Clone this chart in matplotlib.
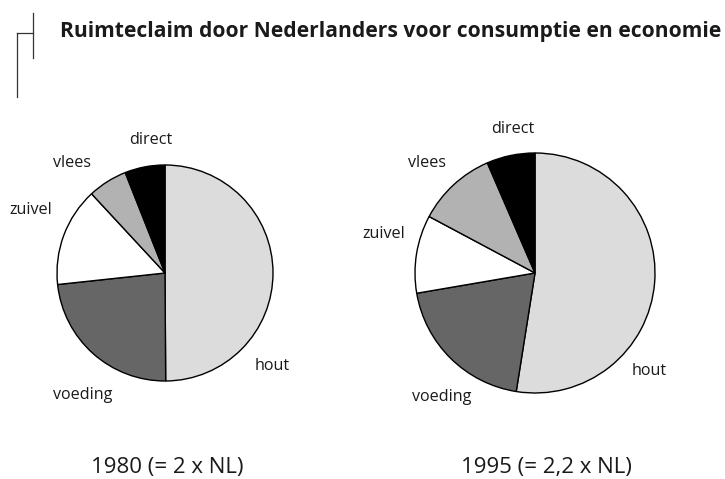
import matplotlib
matplotlib.use("Agg")
import matplotlib.pyplot as plt
from matplotlib.lines import Line2D

title = "Ruimteclaim door Nederlanders voor consumptie en economie"
categories = ["hout", "voeding", "zuivel", "vlees", "direct"]
values_1980 = [49.9, 23.4, 14.8, 5.9, 6.0]
values_1995 = [52.5, 19.8, 10.5, 10.7, 6.5]
captions = ["1980 (= 2 x NL)", "1995 (= 2,2 x NL)"]

colors = ["#dcdcdc", "#666666", "#ffffff", "#b2b2b2", "#000000"]
FONT = ["Open Sans", "DejaVu Sans"]
W, H = 725, 479

fig = plt.figure(figsize=(W / 100, H / 100), dpi=100)
ax = fig.add_axes([0, 0, 1, 1])

def py(y):
    return H - y

pies = [
    dict(vals=values_1980, center=(165, 273), r=108,
         labels={"hout": (272, 366), "voeding": (83, 395), "zuivel": (31, 210),
                 "vlees": (72, 163), "direct": (151, 140)},
         cap=(167, 468)),
    dict(vals=values_1995, center=(535, 273), r=120,
         labels={"hout": (649, 371), "voeding": (442, 397), "zuivel": (384, 234),
                 "vlees": (427, 163), "direct": (513, 129)},
         cap=(546, 468)),
]

for p, cap in zip(pies, captions):
    cx, cy = p["center"]
    ax.pie(p["vals"], colors=colors, startangle=90, counterclock=False,
           center=(cx, py(cy)), radius=p["r"], frame=True,
           wedgeprops=dict(edgecolor="black", linewidth=1.0))
    for cat in categories:
        lx, ly = p["labels"][cat]
        ax.text(lx, py(ly), cat, ha="center", va="center", fontsize=11.6,
                family=FONT, color="#1a1a1a")
    ax.text(p["cap"][0], py(p["cap"][1]), cap, ha="center", va="center",
            fontsize=16, family=FONT, color="#1a1a1a")

ax.set_xlim(0, W)
ax.set_ylim(0, H)
ax.set_aspect("equal")
ax.axis("off")

# title decoration lines
for xs, ys in [([33, 33], [13, 58]), ([17, 33], [33, 33]), ([17, 17], [33, 97])]:
    ax.add_line(Line2D(xs, [py(v) for v in ys], color="#333333", linewidth=0.9))

ax.text(60, py(31), title, ha="left", va="center", fontsize=15.1,
        fontweight="bold", family=FONT, color="#1a1a1a")

fig.savefig("out.png", dpi=100)
